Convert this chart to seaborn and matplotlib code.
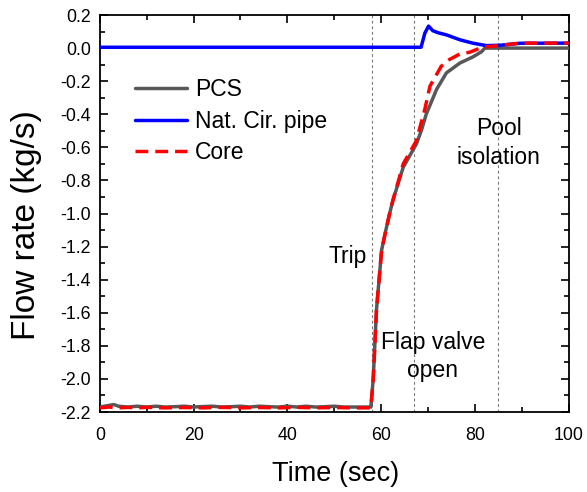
import numpy as np
import pandas as pd
import matplotlib
matplotlib.use("Agg")
import matplotlib.pyplot as plt
import seaborn as sns
from matplotlib.ticker import MultipleLocator, FormatStrFormatter

# ---- data ----
pcs_t = [0, 1, 2, 3, 4, 6, 8, 10, 12, 14, 16, 18, 20, 22, 24, 26, 28, 30, 32, 34, 36, 38, 40,
         42, 44, 46, 48, 50, 52, 54, 56, 57.3, 57.8, 58.3, 59.0, 60.1, 61.0, 61.8, 62.5, 64.7,
         67.5, 68.6, 69.6, 71.8, 73.9, 76.8, 79.5, 81.4, 82.1, 85, 90, 100]
pcs_v = [-2.17, -2.165, -2.16, -2.155, -2.165, -2.17, -2.165, -2.17, -2.165, -2.17, -2.168, -2.165,
         -2.17, -2.167, -2.165, -2.17, -2.168, -2.165, -2.17, -2.165, -2.168, -2.17, -2.165,
         -2.17, -2.165, -2.17, -2.168, -2.165, -2.17, -2.17, -2.17, -2.17, -2.17, -2.0, -1.58,
         -1.22, -1.1, -1.0, -0.92, -0.72, -0.58, -0.495, -0.40, -0.25, -0.15, -0.09, -0.054,
         -0.022, 0.0, 0.0, 0.0, 0.0]

core_t = [0, 2, 4, 6, 8, 10, 14, 18, 22, 26, 30, 34, 38, 42, 46, 50, 54, 57.3, 57.8, 58.3, 59.0,
          60.1, 61.0, 61.8, 62.5, 64.7, 67.5, 69.3, 70.4, 72.8, 74.5, 76.8, 78.9, 81.5, 84, 89.6, 100]
core_v = [-2.175, -2.17, -2.175, -2.172, -2.175, -2.172, -2.175, -2.173, -2.175, -2.172, -2.175,
          -2.173, -2.175, -2.172, -2.175, -2.173, -2.175, -2.175, -2.175, -2.0, -1.58, -1.22,
          -1.1, -1.0, -0.92, -0.70, -0.56, -0.37, -0.23, -0.11, -0.07, -0.035, -0.025, 0.005,
          0.012, 0.03, 0.03]

nat_t = [0, 20, 40, 60, 68.5, 69.3, 70.1, 71.0, 72.1, 73.9, 76.8, 79.5, 82.4, 85.3, 89.6, 100]
nat_v = [0.005, 0.005, 0.005, 0.005, 0.005, 0.09, 0.133, 0.105, 0.093, 0.08, 0.05, 0.03, 0.015,
         0.017, 0.029, 0.03]

event_t = [58, 67, 85]

sns.set_theme(style="ticks")
plt.rcParams['font.family'] = ['Liberation Sans', 'DejaVu Sans']
plt.rcParams['text.color'] = 'black'
plt.rcParams['axes.labelcolor'] = 'black'
plt.rcParams['xtick.color'] = 'black'
plt.rcParams['ytick.color'] = 'black'

fig = plt.figure(figsize=(5.87, 4.92), dpi=100)
ax = fig.add_axes([0.170, 0.1626, 0.969 - 0.170, 0.9695 - 0.1626])

for t in event_t:
    ax.axvline(t, color="#777777", lw=0.8, ls=(0, (2.5, 2.5)), zorder=1)

df_pcs = pd.DataFrame({"t": pcs_t, "v": pcs_v})
df_nat = pd.DataFrame({"t": nat_t, "v": nat_v})
df_core = pd.DataFrame({"t": core_t, "v": core_v})

sns.lineplot(data=df_pcs, x="t", y="v", ax=ax, color="#585858", lw=2.5, label="PCS", zorder=3)
sns.lineplot(data=df_nat, x="t", y="v", ax=ax, color="#0000ff", lw=2.5, label="Nat. Cir. pipe", zorder=4)
sns.lineplot(data=df_core, x="t", y="v", ax=ax, color="#ff0000", lw=2.5, label="Core", zorder=5)
ax.lines[-1].set_linestyle((0, (3.7, 2.0)))

ax.set_xlim(0, 100)
ax.set_ylim(-2.2, 0.2)
ax.xaxis.set_major_locator(MultipleLocator(20))
ax.xaxis.set_minor_locator(MultipleLocator(10))
ax.yaxis.set_major_locator(MultipleLocator(0.2))
ax.yaxis.set_minor_locator(MultipleLocator(0.1))
ax.yaxis.set_major_formatter(FormatStrFormatter('%.1f'))
ax.tick_params(which="both", direction="in", top=True, right=True, colors="black", labelsize=12.8)
ax.tick_params(which="major", length=6, width=1.2)
ax.tick_params(which="minor", length=3.5, width=1.2)
ax.tick_params(axis="x", which="major", pad=10.5)
ax.tick_params(axis="y", which="major", pad=6.5)
for s in ax.spines.values():
    s.set_color("black")
    s.set_linewidth(1.3)

ax.set_xlabel("Time (sec)", fontsize=19.5)
ax.set_ylabel("Flow rate (kg/s)", fontsize=24)
ax.xaxis.set_label_coords(0.503, -0.1225)
ax.yaxis.set_label_coords(-0.124, 0.471)

ax.text(57.0, -1.30, "Trip", fontsize=16.5, ha="right", va="baseline")
ax.text(71.0, -1.865, "Flap valve\nopen", fontsize=16.5, ha="center", va="center", linespacing=1.3)
ax.text(85.1, -0.574, "Pool\nisolation", fontsize=16.5, ha="center", va="center", linespacing=1.3)

leg = ax.legend(loc="upper left", bbox_to_anchor=(0.0746, 0.841), frameon=False, fontsize=16.5,
                handlelength=2.27, handletextpad=0.35, labelspacing=0.37, borderaxespad=0,
                borderpad=0)

fig.savefig("out.png", dpi=100)
